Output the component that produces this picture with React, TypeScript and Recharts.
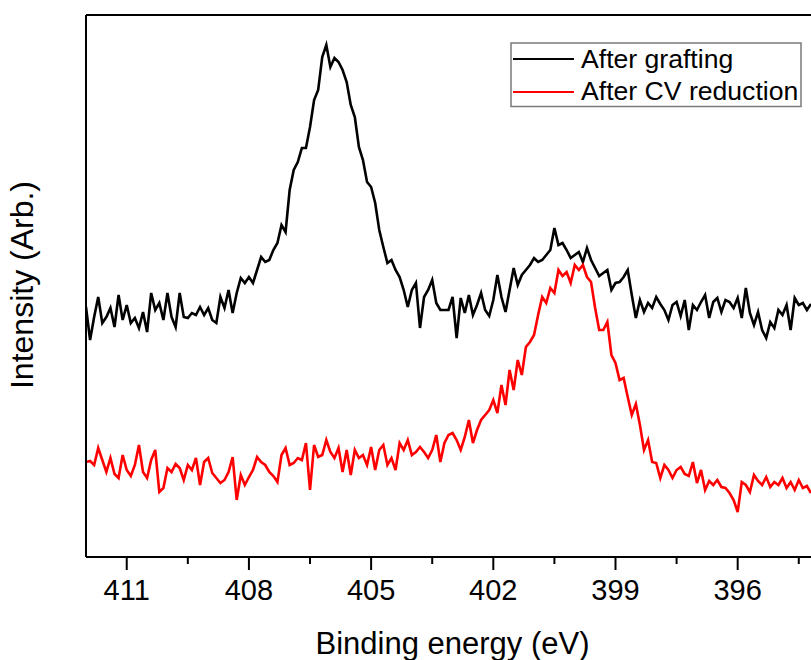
import React from 'react';
import { LineChart, Line, XAxis, YAxis, Legend, ReferenceLine } from 'recharts';

// Binding energy (eV), 0.1 eV steps, high to low
const energies = [
  412.0, 411.9, 411.8, 411.7, 411.6, 411.5, 411.4, 411.3, 411.2, 411.1,
  411.0, 410.9, 410.8, 410.7, 410.6, 410.5, 410.4, 410.3, 410.2, 410.1,
  410.0, 409.9, 409.8, 409.7, 409.6, 409.5, 409.4, 409.3, 409.2, 409.1,
  409.0, 408.9, 408.8, 408.7, 408.6, 408.5, 408.4, 408.3, 408.2, 408.1,
  408.0, 407.9, 407.8, 407.7, 407.6, 407.5, 407.4, 407.3, 407.2, 407.1,
  407.0, 406.9, 406.8, 406.7, 406.6, 406.5, 406.4, 406.3, 406.2, 406.1,
  406.0, 405.9, 405.8, 405.7, 405.6, 405.5, 405.4, 405.3, 405.2, 405.1,
  405.0, 404.9, 404.8, 404.7, 404.6, 404.5, 404.4, 404.3, 404.2, 404.1,
  404.0, 403.9, 403.8, 403.7, 403.6, 403.5, 403.4, 403.3, 403.2, 403.1,
  403.0, 402.9, 402.8, 402.7, 402.6, 402.5, 402.4, 402.3, 402.2, 402.1,
  402.0, 401.9, 401.8, 401.7, 401.6, 401.5, 401.4, 401.3, 401.2, 401.1,
  401.0, 400.9, 400.8, 400.7, 400.6, 400.5, 400.4, 400.3, 400.2, 400.1,
  400.0, 399.9, 399.8, 399.7, 399.6, 399.5, 399.4, 399.3, 399.2, 399.1,
  399.0, 398.9, 398.8, 398.7, 398.6, 398.5, 398.4, 398.3, 398.2, 398.1,
  398.0, 397.9, 397.8, 397.7, 397.6, 397.5, 397.4, 397.3, 397.2, 397.1,
  397.0, 396.9, 396.8, 396.7, 396.6, 396.5, 396.4, 396.3, 396.2, 396.1,
  396.0, 395.9, 395.8, 395.7, 395.6, 395.5, 395.4, 395.3, 395.2, 395.1,
  395.0, 394.9, 394.8, 394.7, 394.6, 394.5, 394.4, 394.3, 394.2,
];

// Intensity (arbitrary units)
const afterGrafting = [
  250, 217, 240, 260, 234, 240, 249, 230, 262, 237,
  252, 234, 239, 229, 245, 225, 264, 247, 254, 237,
  264, 240, 230, 264, 240, 239, 244, 242, 250, 242,
  249, 237, 234, 260, 249, 267, 244, 264, 279, 274,
  280, 274, 287, 300, 295, 297, 307, 314, 332, 325,
  367, 387, 395, 409, 409, 430, 457, 467, 500, 512,
  490, 499, 495, 487, 475, 452, 440, 410, 397, 375,
  370, 354, 327, 310, 294, 297, 287, 280, 267, 250,
  267, 274, 229, 260, 267, 277, 254, 247, 247, 247,
  260, 219, 259, 244, 262, 242, 252, 264, 247, 241,
  257, 282, 260, 245, 267, 289, 272, 282, 287, 292,
  299, 295, 297, 302, 307, 329, 312, 314, 307, 299,
  302, 305, 295, 309, 297, 289, 281, 284, 287, 267,
  274, 275, 280, 287, 262, 239, 257, 245, 254, 249,
  260, 253, 247, 237, 252, 255, 241, 257, 227, 252,
  247, 255, 262, 239, 255, 259, 245, 257, 255, 249,
  259, 239, 269, 244, 232, 245, 227, 219, 235, 229,
  247, 242, 252, 227, 259, 252, 254, 247, 253,
];

const afterCVReduction = [
  95, 96, 92, 109, 97, 85, 99, 83, 79, 102,
  87, 81, 92, 112, 85, 79, 97, 107, 65, 69,
  89, 85, 93, 89, 77, 92, 87, 99, 72, 95,
  99, 84, 79, 74, 77, 85, 100, 57, 82, 72,
  80, 87, 100, 95, 92, 85, 81, 75, 102, 109,
  92, 94, 99, 97, 114, 67, 112, 100, 102, 117,
  105, 99, 109, 85, 107, 82, 107, 99, 102, 92,
  110, 87, 107, 112, 92, 99, 87, 114, 107, 117,
  102, 105, 110, 105, 99, 107, 122, 95, 114, 122,
  124, 117, 107, 120, 137, 114, 127, 137, 142, 147,
  157, 144, 172, 152, 187, 167, 197, 182, 210, 215,
  222, 242, 260, 254, 269, 264, 287, 281, 285, 274,
  292, 287, 292, 280, 275, 249, 227, 227, 235, 202,
  194, 177, 179, 160, 142, 153, 132, 107, 117, 95,
  94, 79, 92, 87, 79, 87, 90, 83, 81, 95,
  74, 87, 67, 76, 72, 77, 70, 69, 64, 57,
  45, 75, 72, 65, 82, 76, 72, 80, 70, 75,
  72, 79, 69, 75, 67, 77, 69, 71, 64,
];

const majorTicks = [411, 408, 405, 402, 399, 396];
const minorTicks = [409.5, 406.5, 403.5, 400.5, 397.5, 394.5];
const xDomain = [394.2, 412];
const yDomain = [0, 542];

const seriesNames = ['After grafting', 'After CV reduction'];
const seriesColors = ['#000000', '#ff0000'];

const FONT = '"Liberation Sans", Arial, Helvetica, sans-serif';

const data = energies.map((e, i) => ({
  energy: e,
  grafting: afterGrafting[i],
  reduction: afterCVReduction[i],
}));

const allTicks = [...majorTicks, ...minorTicks].sort((a, b) => b - a);

const XTick = (props: any) => {
  const { x, y, payload } = props;
  const v = payload.value;
  const major = majorTicks.includes(v);
  return (
    <g>
      <line x1={x} x2={x} y1={y} y2={y + (major ? 13 : 7)} stroke="#000" strokeWidth={2} />
      {major && (
        <text x={x} y={y + 43} textAnchor="middle" fontSize={29} fontFamily={FONT} fill="#000">
          {v}
        </text>
      )}
    </g>
  );
};

const XTitle = (props: any) => {
  const vb = props.viewBox || { x: 86, y: 557, width: 725, height: 103 };
  return (
    <text
      x={vb.x + vb.width / 2 + 4}
      y={vb.y + 97}
      textAnchor="middle"
      fontSize={31}
      fontFamily={FONT}
      fill="#000"
    >
      Binding energy (eV)
    </text>
  );
};

const YTitle = (props: any) => {
  const vb = props.viewBox || { x: 0, y: 15, width: 86, height: 542 };
  const cx = 33;
  const cy = vb.y + vb.height / 2 - 1;
  return (
    <text
      x={cx}
      y={cy}
      textAnchor="middle"
      fontSize={32}
      fontFamily={FONT}
      fill="#000"
      transform={`rotate(-90, ${cx}, ${cy})`}
    >
      Intensity (Arb.)
    </text>
  );
};

const renderLegend = (props: any) => {
  const payload = [...(props.payload || [])].sort(
    (a: any, b: any) => seriesNames.indexOf(a.value) - seriesNames.indexOf(b.value)
  );
  return (
    <svg width={293} height={66} style={{ display: 'block' }}>
      <rect x={1} y={1} width={290} height={63.5} fill="#fff" stroke="#7a7a7a" strokeWidth={1.5} />
      {payload.map((p: any, i: number) => (
        <g key={i}>
          <line x1={3} x2={64} y1={17 + i * 33} y2={17 + i * 33} stroke={p.color} strokeWidth={2.2} />
          <text x={71} y={26 + i * 32.3} fontSize={26.6} fontFamily={FONT} fill="#000">
            {p.value}
          </text>
        </g>
      ))}
    </svg>
  );
};

export default function App() {
  return (
    <div style={{ position: 'absolute', left: 0, top: 0, width: 811, height: 660, overflow: 'hidden', background: '#fff' }}>
      <LineChart width={811} height={660} data={data} margin={{ top: 15, right: 0, left: 0, bottom: 0 }}>
        <XAxis
          dataKey="energy"
          type="number"
          domain={xDomain}
          reversed
          allowDataOverflow
          ticks={allTicks}
          interval={0}
          tickSize={0}
          tickMargin={0}
          tickLine={false}
          tick={<XTick />}
          axisLine={{ stroke: '#000', strokeWidth: 2 }}
          height={103}
          label={<XTitle />}
        />
        <YAxis
          type="number"
          domain={yDomain}
          allowDataOverflow
          width={86}
          tick={false}
          tickLine={false}
          axisLine={{ stroke: '#000', strokeWidth: 2 }}
          label={<YTitle />}
        />
        <ReferenceLine y={yDomain[1]} stroke="#000" strokeWidth={2} />
        <Line
          type="linear"
          dataKey="grafting"
          name={seriesNames[0]}
          stroke={seriesColors[0]}
          strokeWidth={2.6}
          dot={false}
          isAnimationActive={false}
        />
        <Line
          type="linear"
          dataKey="reduction"
          name={seriesNames[1]}
          stroke={seriesColors[1]}
          strokeWidth={2.6}
          dot={false}
          isAnimationActive={false}
        />
        <Legend
          layout="horizontal"
          align="center"
          verticalAlign="middle"
          content={renderLegend}
          wrapperStyle={{ position: 'absolute', left: 510, top: 42, width: 293, height: 66 }}
        />
      </LineChart>
    </div>
  );
}
